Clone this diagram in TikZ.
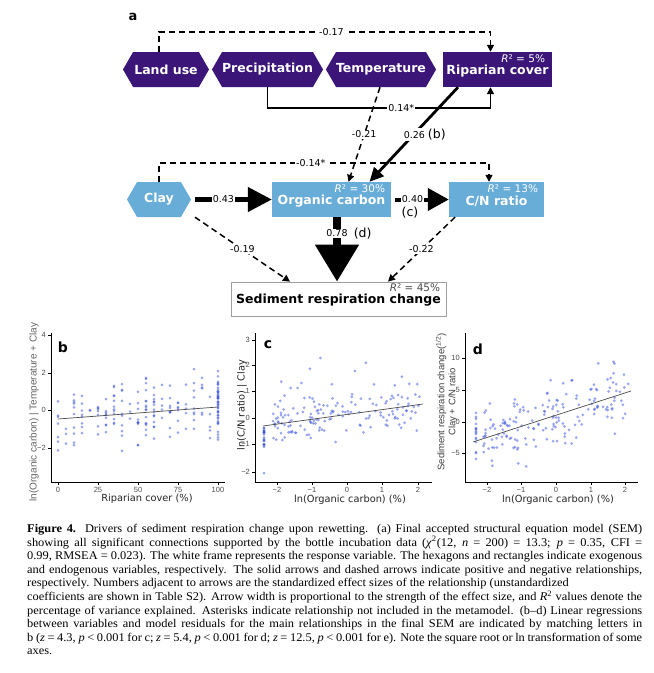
\documentclass[tikz,border=0pt]{standalone}
\usepackage{fontspec}
\setmainfont{Liberation Serif}[FakeStretch=1.05]
\newfontfamily\semfont{DejaVu Sans}
\newfontfamily\plotfont{Liberation Sans}
\usetikzlibrary{arrows.meta,shapes.symbols,positioning}

\definecolor{drvpurple}{RGB}{59,22,120}
\definecolor{endblue}{RGB}{104,172,216}
\definecolor{dotblue}{RGB}{56,80,226}
\definecolor{axisgray}{RGB}{77,77,77}

\tikzset{
  boxfont/.style  = {font=\semfont\fontsize{12.5}{14}\selectfont\bfseries},
  exo/.style      = {signal, signal to=west and east, signal pointer angle=120,
                     boxfont, text=white, minimum height=35pt, inner sep=0pt},
  endo/.style     = {rectangle, boxfont, text=white, fill=endblue,
                     minimum height=35pt, inner sep=0pt, text height=1.25em},
  resp/.style     = {rectangle, boxfont, draw=gray!75, line width=0.7pt, fill=white,
                     minimum height=34pt, inner sep=0pt, text height=1.25em},
  rlab/.style     = {font=\semfont\fontsize{10.5}{12}\selectfont, inner sep=0pt,
                     anchor=north east},
  edgelab/.style  = {fill=white, inner sep=1pt, font=\semfont\fontsize{9.5}{11}\selectfont},
  negarrow/.style = {line width=1.5pt, dash pattern=on 6pt off 4pt,
                     -{Triangle[length=7pt,width=7pt]}},
  posarrow/.style = {line width=1.5pt, -{Triangle[length=7pt,width=7pt]}},
  axis/.style     = {line width=0.6pt, black},
  ticklab/.style  = {font=\plotfont\fontsize{7.5}{9}\selectfont, text=axisgray, inner sep=1pt},
  axlab/.style    = {font=\semfont\fontsize{9.8}{11}\selectfont, text=black!85, inner sep=0pt},
  plabel/.style   = {font=\semfont\fontsize{14}{16}\selectfont\bfseries, inner sep=0pt},
  dot/.style      = {fill=dotblue, fill opacity=0.5},
  fitline/.style  = {line width=0.7pt, black!70},
  captext/.style  = {font=\fontsize{11.8}{13.6}\selectfont, inner sep=0pt,
                     text width=615pt, align=justify}
}

\begin{document}
\begin{tikzpicture}[x=1pt,y=-1pt]
\useasboundingbox (0,0) rectangle (654,673);
\fill[white] (0,0) rectangle (654,673);

% ---------- panel a: SEM ----------
\node[plabel, font=\semfont\fontsize{13}{15}\selectfont\bfseries] (pa) at (133,17) {a};

% exogenous drivers
\node[exo, fill=drvpurple, minimum width=86pt]  (landuse) at (166,69.5)   {Land use};
\node[exo, fill=drvpurple, minimum width=109pt] (precip)  at (267.5,69.5) {Precipitation};
\node[exo, fill=drvpurple, minimum width=108pt] (temp)    at (381,69.5)   {Temperature};
\node[endo, fill=drvpurple, minimum width=109pt] (riparian) at (497.5,69.5) {Riparian cover};
\node[rlab, text=white] (riparianR) at ([xshift=-7pt,yshift=-3pt]riparian.north east) {\textit{R}² = 5\%};

% second level
\node[exo, fill=endblue, minimum width=64pt] (clay) at (159,199.5) {Clay};
\node[endo, minimum width=119pt] (orgc) at (331.5,199.5) {Organic carbon};
\node[rlab, text=white] (orgcR) at ([xshift=-6pt,yshift=-3pt]orgc.north east) {\textit{R}² = 30\%};
\node[endo, minimum width=95pt] (cn) at (496.5,199.5) {C/N ratio};
\node[rlab, text=white] (cnR) at ([xshift=-6pt,yshift=-3pt]cn.north east) {\textit{R}² = 13\%};

% response
\node[resp, minimum width=215pt] (src) at (338.5,299) {Sediment respiration change};
\node[rlab, text=black!70] (srcR) at ([xshift=-6pt,yshift=-2pt]src.north east) {\textit{R}² = 45\%};

% connectors, top level
\draw[negarrow] ([xshift=-7pt]landuse.north) -- ++(0,-20) -| ([xshift=-7pt]riparian.north)
  node[edgelab, pos=0.26] (l017) {-0.17};
\draw[posarrow] (precip.south) -- ++(0,21) -| ([xshift=-7pt]riparian.south)
  node[edgelab, pos=0.30] (l014) {0.14*};
\draw[negarrow] ([xshift=-1pt]temp.south) -- ([xshift=17pt]orgc.north)
  node[edgelab, pos=0.5] (l021) {-0.21};
\draw[line width=2.8pt, -{Triangle[length=14pt,width=13pt]}]
  ([xshift=-39.5pt]riparian.south) -- ([xshift=38pt]orgc.north)
  node[edgelab, pos=0.5, xshift=11pt] (l026) {0.26 {\fontsize{12.5}{14}\selectfont(b)}};

% connectors, second level
\draw[negarrow] (clay.north) -- ++(0,-19) -| ([xshift=-7.5pt]cn.north)
  node[edgelab, pos=0.23] (l014b) {-0.14*};
\draw[line width=4.5pt, shorten <=4pt, -{Triangle[length=24pt,width=24pt]}]
  (clay.east) -- (orgc.west) node[edgelab, pos=0.4] (l043) {0.43};
\draw[line width=4pt, shorten <=4pt, -{Triangle[length=21pt,width=22pt]}]
  (orgc.east) -- (cn.west) node[edgelab, pos=0.37] (l040) {0.40};
\node[edgelab, fill=none, font=\semfont\fontsize{12.5}{14}\selectfont] (l040c) at (410,213) {(c)};
\draw[line width=8pt, -{Triangle[length=37pt,width=42pt]}]
  ([xshift=5.5pt]orgc.south) -- ([xshift=-1.5pt]src.north)
  node[edgelab, pos=0.25] (l078) {0.78};
\node[edgelab, fill=none, right=0pt of l078, font=\semfont\fontsize{12.5}{14}\selectfont] (l078d) {(d)};
\draw[negarrow] ([xshift=36pt]clay.south) -- ([xshift=-48.5pt]src.north)
  node[edgelab, pos=0.5] (l019) {-0.19};
\draw[negarrow] ([xshift=-41.5pt]cn.south) -- ([xshift=49.5pt]src.north)
  node[edgelab, pos=0.5] (l022) {-0.22};

% ---------- panel b ----------
\pgfmathsetseed{11}
\foreach \i in {1,...,200}{
  \pgfmathsetmacro{\xb}{5*min(20,random(0,27))}
  \pgfmathsetmacro{\yb}{max(-2.4,min(2.8,-0.5+0.008*\xb+0.85*(rand+rand+rand)))}
  \fill[dot] ({58+1.6*\xb},{410-18.8*\yb}) circle[radius=1.5pt];
}
\draw[fitline] (58,419) -- (218,407);
\draw[axis] (51,333) -- (51,482) -- (225,482);
\foreach \xv/\lab [count=\k] in {58/0,98/25,138/50,178/75,218/100}{
  \draw[axis] (\xv,482) -- (\xv,485);
  \node[ticklab, anchor=north] (bxt\k) at (\xv,486) {\lab};
}
\foreach \yv/\lab [count=\k] in {335/4,373/2,410/0,448/−2}{
  \draw[axis] (51,\yv) -- (48,\yv);
  \node[ticklab, anchor=east] (byt\k) at (47,\yv) {\lab};
}
\node[plabel] (pb) at (63,347) {b};
\node[axlab] (bxl) at (147,499) {Riparian cover (\%)};
\node[axlab, font=\plotfont\fontsize{10}{11}\selectfont, text=black!60, rotate=90] (byl) at (34,412)
  {ln(Organic carbon) | Temperature + Clay};

% ---------- panel c ----------
\foreach \i in {1,...,165}{
  \pgfmathsetmacro{\xc}{-2.1+4.2*pow(rnd,1.5)}
  \pgfmathsetmacro{\yc}{max(-1,min(2.4,0.15*\xc+0.38*(rand+rand+rand)+1.8*pow(rnd,5)))}
  \fill[dot] ({347+35.2*\xc},{418-26.3*\yc}) circle[radius=1.5pt];
}
\foreach \i in {1,...,20}{
  \pgfmathsetmacro{\yc}{-0.35-0.8*rnd}
  \fill[dot] (264,{418-26.3*\yc}) circle[radius=1.5pt];
}
\fill[dot] (264,473) circle[radius=1.5pt];
\draw[fitline] (263,426) -- (423,404);
\draw[axis] (255,333) -- (255,482) -- (432,482);
\foreach \xv/\lab [count=\k] in {277/−2,312/−1,347/0,382/1,418/2}{
  \draw[axis] (\xv,482) -- (\xv,485);
  \node[ticklab, anchor=north] (cxt\k) at (\xv,486) {\lab};
}
\foreach \yv/\lab [count=\k] in {340/3,365/2,391/1,418/0,444/−1,472/−2}{
  \draw[axis] (255,\yv) -- (252,\yv);
  \node[ticklab, anchor=east] (cyt\k) at (251,\yv) {\lab};
}
\node[plabel] (pc) at (268,345) {c};
\node[axlab] (cxl) at (350,500) {ln(Organic carbon) (\%)};
\node[axlab, rotate=90] (cyl) at (242,405) {ln(C/N ratio) | Clay};

% ---------- panel d ----------
\foreach \i in {1,...,175}{
  \pgfmathsetmacro{\xd}{-2.1+4.2*pow(rnd,1.4)}
  \pgfmathsetmacro{\yd}{max(-7.2,min(12.5,0.9+1.8*\xd+2.5*(rand+rand+rand)))}
  \fill[dot] ({556+34.5*\xd},{422-6.33*\yd}) circle[radius=1.5pt];
}
\foreach \i in {1,...,16}{
  \pgfmathsetmacro{\yd}{-6+7.5*rnd}
  \fill[dot] (476,{422-6.33*\yd}) circle[radius=1.5pt];
}
\draw[fitline] (473,442) -- (631,391);
\draw[axis] (465,333) -- (465,482) -- (638,482);
\foreach \xv/\lab [count=\k] in {487/−2,521/−1,556/0,591/1,625/2}{
  \draw[axis] (\xv,482) -- (\xv,485);
  \node[ticklab, anchor=north] (dxt\k) at (\xv,486) {\lab};
}
\foreach \yv/\lab [count=\k] in {358/10,390/5,422/0,453/−5}{
  \draw[axis] (465,\yv) -- (462,\yv);
  \node[ticklab, anchor=east] (dyt\k) at (461,\yv) {\lab};
}
\node[plabel] (pd) at (478,349) {d};
\node[axlab] (dxl) at (558,500) {ln(Organic carbon) (\%)};
\node[axlab, font=\plotfont\fontsize{9.5}{11}\selectfont, text=black!75, rotate=90, align=center] (dyl) at (446.5,402)
  {Sediment respiration change(\textsuperscript{1/2})\\ Clay + C/N ratio};

% ---------- caption ----------
\node[captext, anchor=north west] (caption) at (27,524) {%
\textbf{Figure 4.} Drivers of sediment respiration change upon rewetting. (a) Final accepted structural equation model (SEM)\linebreak
showing all significant connections supported by the bottle incubation data (\textit{χ}\smash{\textsuperscript{2}}(12, \textit{n} = 200) = 13.3; \textit{p} = 0.35, CFI =\linebreak
0.99, RMSEA = 0.023). The white frame represents the response variable. The hexagons and rectangles indicate exogenous\linebreak
and endogenous variables, respectively. The solid arrows and dashed arrows indicate positive and negative relationships,\linebreak
respectively. Numbers adjacent to arrows are the standardized effect sizes of the relationship (unstandardized\hfil\break
coefficients are shown in Table S2). Arrow width is proportional to the strength of the effect size, and \textit{R}\smash{\textsuperscript{2}} values denote the\linebreak
percentage of variance explained. Asterisks indicate relationship not included in the metamodel. (b–d) Linear regressions\linebreak
between variables and model residuals for the main relationships in the final SEM are indicated by matching letters in\linebreak
b (\textit{z} = 4.3, \textit{p} < 0.001 for c; \textit{z} = 5.4, \textit{p} < 0.001 for d; \textit{z} = 12.5, \textit{p} < 0.001 for e). Note the square root or ln transformation of some\linebreak
axes.};
\end{tikzpicture}
\end{document}
